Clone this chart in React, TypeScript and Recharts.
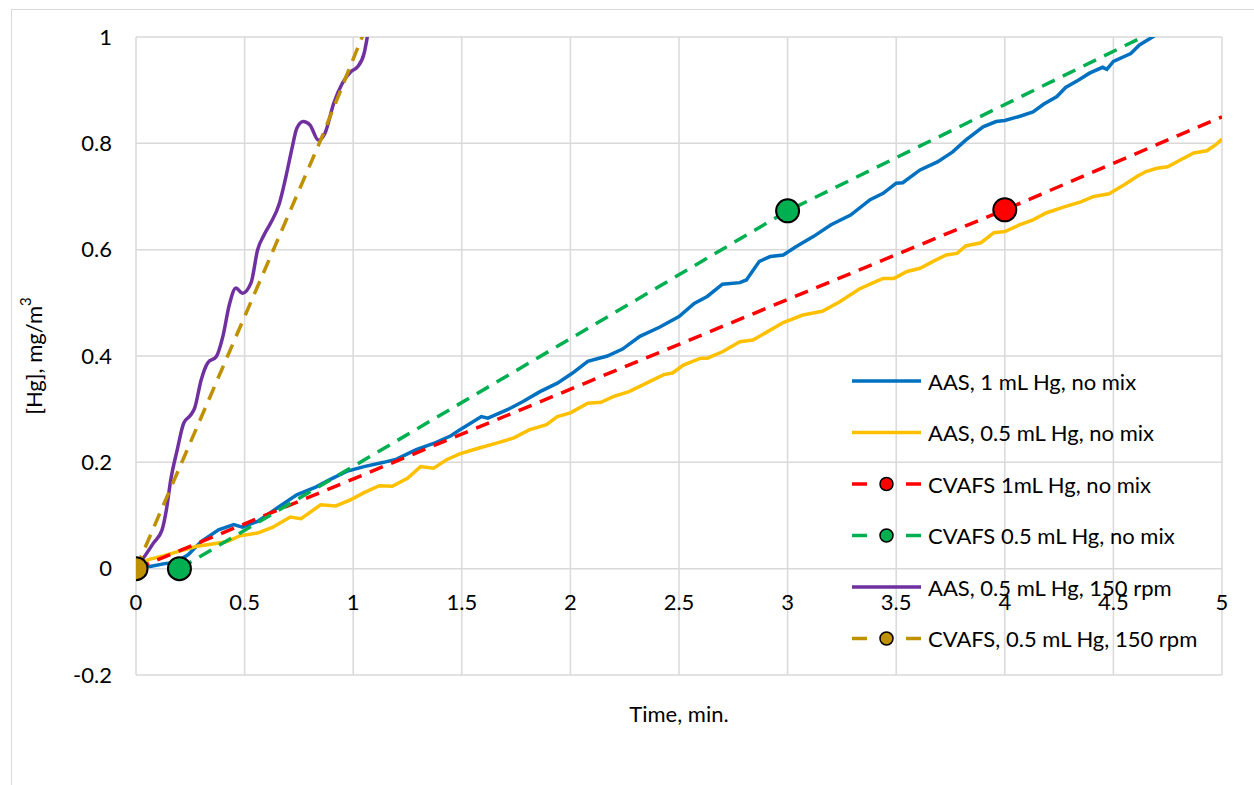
import React from 'react'
import { LineChart, Line, XAxis, YAxis, CartesianGrid } from 'recharts'

// AAS readings, 1 mL Hg, no mixing  [time (min), Hg (mg/m3)]
const aas1mlNoMix: number[][] = [
  [0, 0.005], [0.065, 0.004], [0.126, 0.009], [0.18, 0.012], [0.24, 0.026], [0.3, 0.051],
  [0.38, 0.073], [0.45, 0.083], [0.49, 0.078], [0.56, 0.089], [0.65, 0.114], [0.74, 0.139],
  [0.83, 0.154], [0.89, 0.167], [0.97, 0.183], [1.05, 0.192], [1.14, 0.2], [1.2, 0.206],
  [1.29, 0.224], [1.38, 0.237], [1.45, 0.25], [1.49, 0.261], [1.59, 0.286], [1.62, 0.283],
  [1.71, 0.299], [1.78, 0.314], [1.86, 0.333], [1.94, 0.349], [2.01, 0.368], [2.08, 0.39],
  [2.17, 0.4], [2.24, 0.413], [2.32, 0.437], [2.41, 0.454], [2.5, 0.474], [2.57, 0.499],
  [2.63, 0.512], [2.7, 0.535], [2.78, 0.538], [2.81, 0.543], [2.87, 0.578], [2.92, 0.587],
  [2.98, 0.59], [3.04, 0.606], [3.12, 0.625], [3.2, 0.647], [3.29, 0.665], [3.38, 0.694],
  [3.44, 0.706], [3.5, 0.725], [3.53, 0.726], [3.61, 0.75], [3.69, 0.765], [3.76, 0.784],
  [3.82, 0.806], [3.9, 0.831], [3.96, 0.841], [4.0, 0.843], [4.07, 0.851], [4.13, 0.859],
  [4.18, 0.874], [4.24, 0.888], [4.28, 0.905], [4.34, 0.919], [4.39, 0.932], [4.45, 0.943],
  [4.47, 0.939], [4.5, 0.954], [4.58, 0.969], [4.62, 0.985], [4.68, 1.0], [4.76, 1.02],
  [4.85, 1.04], [5, 1.07],
]

// AAS readings, 0.5 mL Hg, no mixing
const aas05mlNoMix: number[][] = [
  [0, 0.008], [0.065, 0.018], [0.126, 0.024], [0.2, 0.033], [0.28, 0.042], [0.36, 0.047],
  [0.42, 0.051], [0.48, 0.062], [0.56, 0.067], [0.63, 0.078], [0.71, 0.097], [0.76, 0.094],
  [0.85, 0.12], [0.92, 0.118], [0.99, 0.13], [1.05, 0.143], [1.12, 0.156], [1.18, 0.155],
  [1.25, 0.17], [1.31, 0.192], [1.37, 0.189], [1.43, 0.205], [1.49, 0.216], [1.58, 0.227],
  [1.66, 0.236], [1.74, 0.246], [1.81, 0.261], [1.89, 0.271], [1.94, 0.286], [2.0, 0.293],
  [2.08, 0.311], [2.14, 0.313], [2.2, 0.324], [2.27, 0.333], [2.35, 0.349], [2.43, 0.365],
  [2.47, 0.368], [2.52, 0.383], [2.6, 0.396], [2.63, 0.396], [2.7, 0.408], [2.78, 0.427],
  [2.84, 0.43], [2.9, 0.444], [2.98, 0.463], [3.07, 0.477], [3.16, 0.484], [3.24, 0.502],
  [3.33, 0.526], [3.39, 0.537], [3.44, 0.546], [3.49, 0.546], [3.55, 0.559], [3.61, 0.565],
  [3.67, 0.578], [3.73, 0.59], [3.78, 0.593], [3.82, 0.607], [3.89, 0.613], [3.95, 0.632],
  [4.0, 0.634], [4.07, 0.647], [4.13, 0.656], [4.19, 0.669], [4.27, 0.68], [4.35, 0.69],
  [4.41, 0.7], [4.48, 0.705], [4.55, 0.722], [4.61, 0.738], [4.65, 0.747], [4.7, 0.753],
  [4.75, 0.756], [4.81, 0.769], [4.87, 0.782], [4.93, 0.786], [4.97, 0.797], [5.0, 0.808],
]

// CVAFS measurements
const cvafs1mlNoMix: number[][] = [[0, 0], [4, 0.675], [5, 0.85]]
const cvafs05mlNoMix: number[][] = [[0.2, 0], [3, 0.673], [5, 1.073]]
const cvafs05ml150rpm: number[][] = [[0, 0], [0.85, 0.806], [1.1, 1.06]]

// AAS readings, 0.5 mL Hg, stirred at 150 rpm
const aas05ml150rpm: number[][] = [
  [0, 0.003], [0.034, 0.02], [0.08, 0.048], [0.12, 0.073], [0.14, 0.111], [0.16, 0.167],
  [0.19, 0.224], [0.22, 0.274], [0.25, 0.288], [0.27, 0.302], [0.3, 0.355], [0.33, 0.387],
  [0.37, 0.399], [0.4, 0.437], [0.43, 0.497], [0.46, 0.528], [0.49, 0.518], [0.53, 0.538],
  [0.56, 0.6], [0.59, 0.628], [0.62, 0.65], [0.66, 0.687], [0.69, 0.737], [0.72, 0.794],
  [0.74, 0.828], [0.77, 0.841], [0.8, 0.835], [0.84, 0.806], [0.87, 0.819], [0.91, 0.875],
  [0.95, 0.913], [0.99, 0.935], [1.02, 0.944], [1.05, 0.969], [1.065, 1.0], [1.09, 1.06],
]

const xTicks = [0, 0.5, 1, 1.5, 2, 2.5, 3, 3.5, 4, 4.5, 5]
const yTicks = [-0.2, 0, 0.2, 0.4, 0.6, 0.8, 1]

type SeriesDef = {
  name: string
  points: number[][]
  color: string
  dashed: boolean
  smooth: boolean
  marks: number[]
}

const series: SeriesDef[] = [
  { name: 'AAS, 1 mL Hg, no mix', points: aas1mlNoMix, color: '#0070C0', dashed: false, smooth: false, marks: [] },
  { name: 'AAS, 0.5 mL Hg, no mix', points: aas05mlNoMix, color: '#FFC000', dashed: false, smooth: false, marks: [] },
  { name: 'CVAFS 1mL Hg, no mix', points: cvafs1mlNoMix, color: '#FF0000', dashed: true, smooth: false, marks: [4] },
  { name: 'CVAFS 0.5 mL Hg, no mix', points: cvafs05mlNoMix, color: '#00B050', dashed: true, smooth: false, marks: [0.2, 3] },
  { name: 'AAS, 0.5 mL Hg, 150 rpm', points: aas05ml150rpm, color: '#7030A0', dashed: false, smooth: true, marks: [] },
  { name: 'CVAFS, 0.5 mL Hg, 150 rpm', points: cvafs05ml150rpm, color: '#BF9000', dashed: true, smooth: false, marks: [0] },
]

const W = 1254
const H = 785
const PLOT_TOP = 37
const PLOT_BOTTOM = 675
const ZERO_Y = PLOT_TOP + (1 / 1.2) * (PLOT_BOTTOM - PLOT_TOP)
const FONT = 'Lato, "Open Sans", sans-serif'
const FONT_SIZE = 22
const GRID = '#d9d9d9'

const XTick = (props: any) => (
  <text
    x={props.x}
    y={ZERO_Y + 33}
    textAnchor="middle"
    dominantBaseline="central"
    fontFamily={FONT}
    fontSize={FONT_SIZE}
    fill="#000"
  >
    {props.payload.value}
  </text>
)

const markerDot = (s: SeriesDef) => (p: any) => {
  const key = `dot-${s.name}-${p.index}`
  if (!s.marks.includes(p.payload.x)) return <g key={key} />
  return <circle key={key} cx={p.cx} cy={p.cy} r={11.5} fill={s.color} stroke="#000" strokeWidth={2} />
}

function LegendOverlay() {
  return (
    <g fontFamily={FONT} fontSize={FONT_SIZE} fill="#000">
      {series.map((s, i) => {
        const cy = 381 + i * 51.5
        return (
          <g key={s.name}>
            {s.dashed ? (
              <>
                <line x1={852} x2={867} y1={cy} y2={cy} stroke={s.color} strokeWidth={3.5} />
                <line x1={906} x2={921} y1={cy} y2={cy} stroke={s.color} strokeWidth={3.5} />
                <circle cx={886.5} cy={cy} r={6.5} fill={s.color} stroke="#000" strokeWidth={1.5} />
              </>
            ) : (
              <line x1={852} x2={921} y1={cy} y2={cy} stroke={s.color} strokeWidth={3.5} />
            )}
            <text x={928} y={cy} dominantBaseline="central">{s.name}</text>
          </g>
        )
      })}
    </g>
  )
}

export default function App() {
  return (
    <div style={{ position: 'fixed', left: 0, top: 0, width: W, height: H, overflow: 'hidden', background: '#fff' }}>
      <div
        style={{
          position: 'absolute', left: 11, top: 9, width: 1300, height: 900,
          border: `1.5px solid ${GRID}`, boxSizing: 'border-box',
        }}
      />
      <div style={{ position: 'absolute', left: 0, top: 0 }}>
        <LineChart width={W} height={H} margin={{ top: 37, right: 32, bottom: 70, left: 76 }}>
          <CartesianGrid stroke={GRID} strokeWidth={1.5} />
          <XAxis
            type="number"
            dataKey="x"
            domain={[0, 5]}
            ticks={xTicks}
            height={40}
            axisLine={false}
            tickLine={false}
            tick={(p: any) => <XTick key={`xt-${p.index}`} {...p} />}
            allowDataOverflow
          />
          <YAxis
            type="number"
            domain={[-0.2, 1]}
            ticks={yTicks}
            width={60}
            axisLine={false}
            tickLine={false}
            tickSize={0}
            tickMargin={24}
            tick={{ fontFamily: FONT, fontSize: FONT_SIZE, fill: '#000' }}
            allowDataOverflow
          />
          {series.map((s) => (
            <Line
              key={s.name}
              data={s.points.map(([x, y]) => ({ x, y }))}
              dataKey="y"
              name={s.name}
              type={s.smooth ? 'monotone' : 'linear'}
              stroke={s.color}
              strokeWidth={3.5}
              strokeDasharray={s.dashed ? '14 9' : undefined}
              dot={s.marks.length ? markerDot(s) : false}
              activeDot={false}
              isAnimationActive={false}
            />
          ))}
        </LineChart>
      </div>
      <svg width={W} height={H} style={{ position: 'absolute', left: 0, top: 0, pointerEvents: 'none' }}>
        <LegendOverlay />
        <text
          x={679}
          y={713}
          textAnchor="middle"
          dominantBaseline="central"
          fontFamily={FONT}
          fontSize={FONT_SIZE}
          fill="#000"
        >
          Time, min.
        </text>
        <text
          transform="translate(33, 356) rotate(-90)"
          textAnchor="middle"
          dominantBaseline="central"
          fontFamily={FONT}
          fontSize={FONT_SIZE}
          fill="#000"
        >
          [Hg], mg/m<tspan dy={-8} fontSize={15}>3</tspan>
        </text>
      </svg>
    </div>
  )
}
